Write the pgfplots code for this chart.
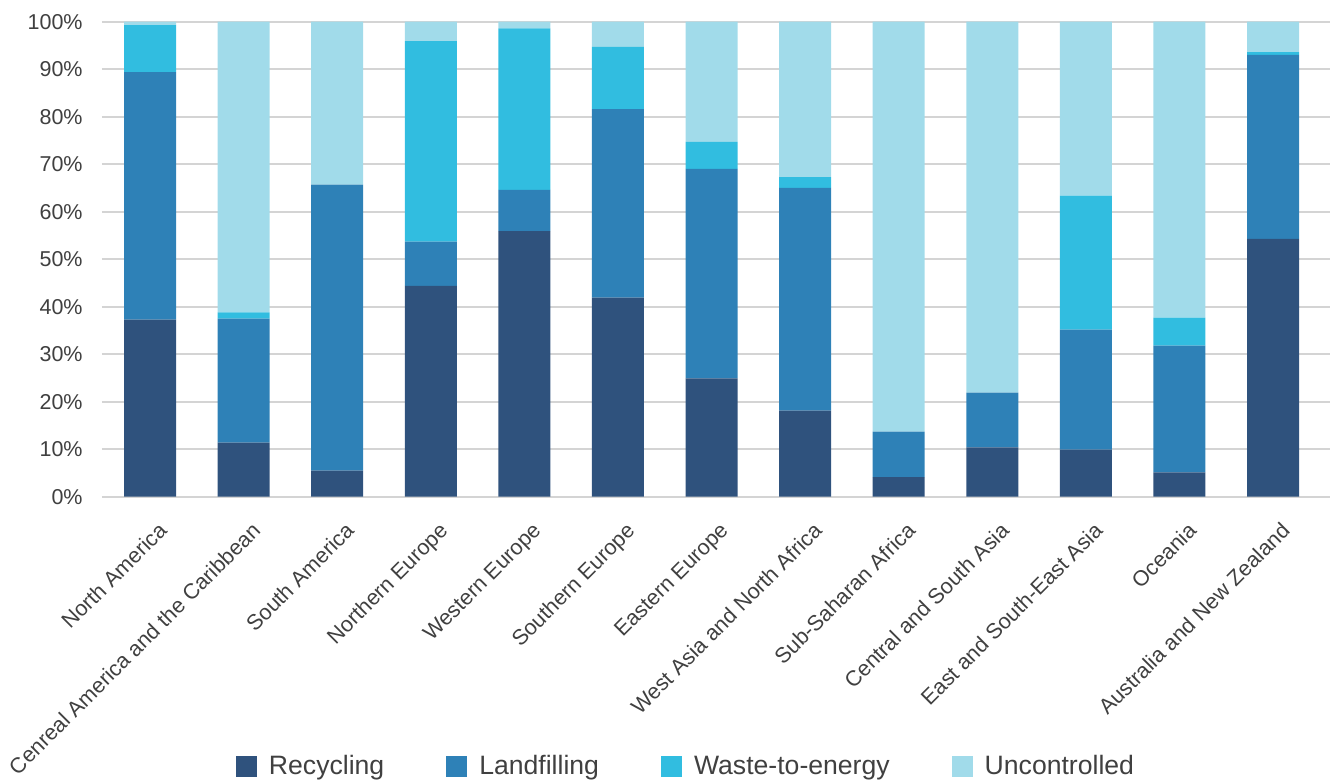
\documentclass[border=0pt]{standalone}
\usepackage{pgfplots}
\pgfplotsset{compat=1.18}
\usepackage{fontspec}
\setmainfont{Liberation Sans}
\definecolor{recyc}{RGB}{47,82,125}
\definecolor{landf}{RGB}{46,129,183}
\definecolor{wte}{RGB}{49,189,224}
\definecolor{unc}{RGB}{161,219,234}
\definecolor{txt}{RGB}{64,64,64}
\definecolor{gridc}{RGB}{212,212,212}
\begin{document}
\begin{tikzpicture}
\useasboundingbox (-51bp,-141.35bp) rectangle (614bp,248.35bp);
\begin{axis}[
  at={(0,0)}, anchor=south west,
  scale only axis, width=614bp, height=237.5bp,
  ybar stacked, bar width=26bp,
  xmin=-0.513, xmax=12.609, ymin=0, ymax=100,
  enlargelimits=false,
  axis line style={draw=none},
  major tick length=0pt,
  ymajorgrids, grid style={color=gridc, line width=1bp},
  ytick={0,10,...,100},
  yticklabels={0\%,10\%,20\%,30\%,40\%,50\%,60\%,70\%,80\%,90\%,100\%},
  yticklabel style={font=\fontsize{10.75bp}{12bp}\selectfont, text=txt, anchor=east, inner sep=0pt, xshift=-9.5bp},
  xtick={0,...,12},
  xticklabels={North America,Cenreal America and the Caribbean,South America,Northern Europe,Western Europe,Southern Europe,Eastern Europe,West Asia and North Africa,Sub-Saharan Africa,Central and South Asia,East and South-East Asia,Oceania,Australia and New Zealand},
  xticklabel style={font=\fontsize{10.8bp}{12bp}\selectfont, text=txt, inner sep=0pt, xshift=3.5bp, yshift=-12bp, rotate=45, anchor=north east},
  legend columns=4,
  legend style={draw=none, fill=none, inner sep=0pt, outer sep=0pt, at={(0.1091,-0.5684)}, anchor=west,
    font=\fontsize{13.3bp}{15bp}\selectfont, text=txt,
    /tikz/every even column/.append style={column sep=31bp},
    /tikz/every odd column/.append style={column sep=6bp},
    nodes={inner sep=0pt}},
  legend image code/.code={\fill[#1] (0bp,-5.25bp) rectangle (10.5bp,5.25bp);},
]
\addplot[fill=recyc, draw=none] coordinates {(0,37.3) (1,11.4) (2,5.5) (3,44.4) (4,55.9) (5,41.9) (6,24.9) (7,18.1) (8,4.1) (9,10.4) (10,9.9) (11,5.1) (12,54.3)};
\addlegendentry{Recycling}
\addplot[fill=landf, draw=none] coordinates {(0,52.1) (1,26.1) (2,60.2) (3,9.3) (4,8.7) (5,39.7) (6,44.1) (7,46.9) (8,9.6) (9,11.5) (10,25.3) (11,26.7) (12,38.7)};
\addlegendentry{Landfilling}
\addplot[fill=wte, draw=none] coordinates {(0,9.9) (1,1.3) (2,0) (3,42.2) (4,34.0) (5,13.1) (6,5.7) (7,2.3) (8,0) (9,0) (10,28.2) (11,5.9) (12,0.6)};
\addlegendentry{Waste-to-energy}
\addplot[fill=unc, draw=none] coordinates {(0,0.7) (1,61.2) (2,34.3) (3,4.1) (4,1.4) (5,5.3) (6,25.3) (7,32.7) (8,86.3) (9,78.1) (10,36.6) (11,62.3) (12,6.4)};
\addlegendentry{Uncontrolled}
\end{axis}
\end{tikzpicture}
\end{document}
